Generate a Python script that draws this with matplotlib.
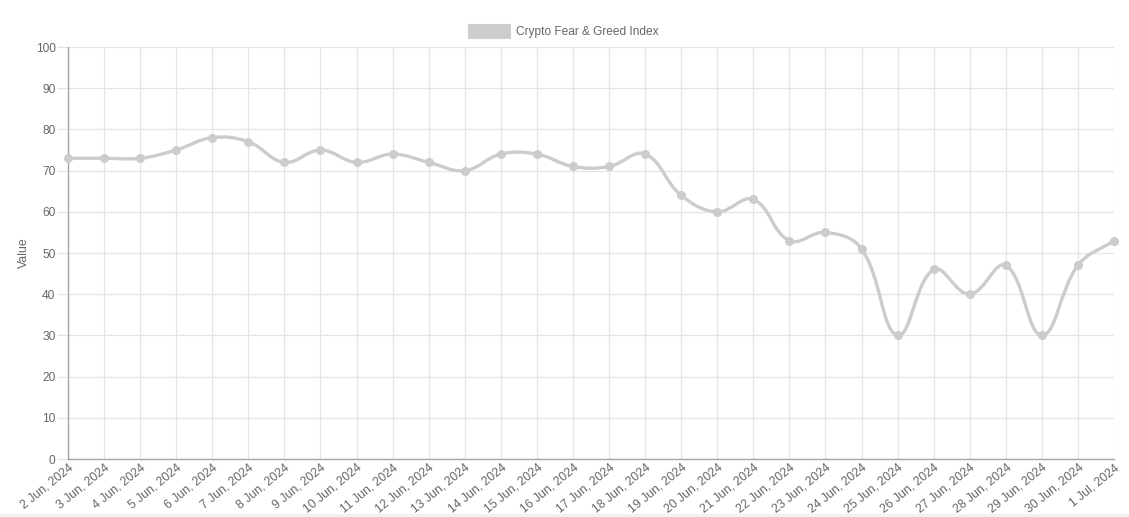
import matplotlib.pyplot as plt
from matplotlib.path import Path
from matplotlib.patches import PathPatch, Rectangle
import numpy as np

plt.rcParams['font.family'] = ['Liberation Sans', 'DejaVu Sans']

dates = ['2 Jun, 2024', '3 Jun, 2024', '4 Jun, 2024', '5 Jun, 2024', '6 Jun, 2024',
         '7 Jun, 2024', '8 Jun, 2024', '9 Jun, 2024', '10 Jun, 2024', '11 Jun, 2024',
         '12 Jun, 2024', '13 Jun, 2024', '14 Jun, 2024', '15 Jun, 2024', '16 Jun, 2024',
         '17 Jun, 2024', '18 Jun, 2024', '19 Jun, 2024', '20 Jun, 2024', '21 Jun, 2024',
         '22 Jun, 2024', '23 Jun, 2024', '24 Jun, 2024', '25 Jun, 2024', '26 Jun, 2024',
         '27 Jun, 2024', '28 Jun, 2024', '29 Jun, 2024', '30 Jun, 2024', '1 Jul, 2024']
values = [73, 73, 73, 75, 78, 77, 72, 75, 72, 74, 72, 70, 74, 74, 71,
          71, 74, 64, 60, 63, 53, 55, 51, 30, 46, 40, 47, 30, 47, 53]

W, H = 1129, 517
fig = plt.figure(figsize=(W / 100, H / 100), dpi=100)
left, right, top, bottom = 68, 1114, 47, 459
ax = fig.add_axes([left / W, 1 - bottom / H, (right - left) / W, (bottom - top) / H])

x = np.arange(len(values), dtype=float)
y = np.array(values, dtype=float)
ax.set_xlim(0, len(values) - 1)
ax.set_ylim(0, 100)

# bezier curve like chart.js (tension 0.4), distances in pixel units
sx = (right - left) / (len(values) - 1)
sy = (bottom - top) / 100.0
px, py = x * sx, y * sy
t = 0.4
verts = [(x[0], y[0])]
codes = [Path.MOVETO]
cps = []
for i in range(len(x)):
    prev = max(i - 1, 0)
    nxt = min(i + 1, len(x) - 1)
    d01 = np.hypot(px[i] - px[prev], py[i] - py[prev])
    d12 = np.hypot(px[nxt] - px[i], py[nxt] - py[i])
    tot = d01 + d12
    s01 = d01 / tot if tot else 0
    s12 = d12 / tot if tot else 0
    fa, fb = t * s01, t * s12
    dx, dy = px[nxt] - px[prev], py[nxt] - py[prev]
    cps.append(((px[i] - fa * dx, py[i] - fa * dy), (px[i] + fb * dx, py[i] + fb * dy)))
for i in range(len(x) - 1):
    c1 = cps[i][1]
    c2 = cps[i + 1][0]
    verts += [(c1[0] / sx, c1[1] / sy), (c2[0] / sx, c2[1] / sy), (x[i + 1], y[i + 1])]
    codes += [Path.CURVE4] * 3
ax.add_patch(PathPatch(Path(verts, codes), facecolor='none', edgecolor='#cccccc',
                       lw=2.4, zorder=3, clip_on=False))
ax.plot(x, y, 'o', color='#cccccc', ms=5.5, zorder=4, clip_on=False)

ax.set_yticks(range(0, 101, 10))
ax.set_xticks(x)
ax.set_xticklabels(dates, rotation=39, ha='right', rotation_mode='anchor')
ax.grid(True, color='#e5e5e5', lw=0.9)
ax.set_axisbelow(True)
for s in ['top', 'right']:
    ax.spines[s].set_visible(False)
for s in ['left', 'bottom']:
    ax.spines[s].set_color('#a6a6a6')
    ax.spines[s].set_linewidth(1)
ax.tick_params(axis='y', length=8, width=0.9, color='#e5e5e5', labelcolor='#666666',
               labelsize=8.6, pad=1)
ax.tick_params(axis='x', length=0, labelcolor='#666666', labelsize=8.8, pad=2)
ax.set_ylabel('Value', color='#666666', fontsize=8.8, labelpad=4)

# legend like chart.js
fig.patches.append(Rectangle((468 / W, 1 - 38 / H), 42 / W, 14 / H, transform=fig.transFigure,
                             facecolor='#cccccc', edgecolor='#d0d0d0', lw=0.8))
fig.text(516 / W, 1 - 32 / H, 'Crypto Fear & Greed Index', color='#666666', fontsize=8.6,
         va='center', ha='left')
fig.patches.append(Rectangle((0, 0), 1, 3 / H, transform=fig.transFigure,
                             facecolor='#f2f2f2', edgecolor='none', zorder=-1))

fig.savefig('out.png', dpi=100)
